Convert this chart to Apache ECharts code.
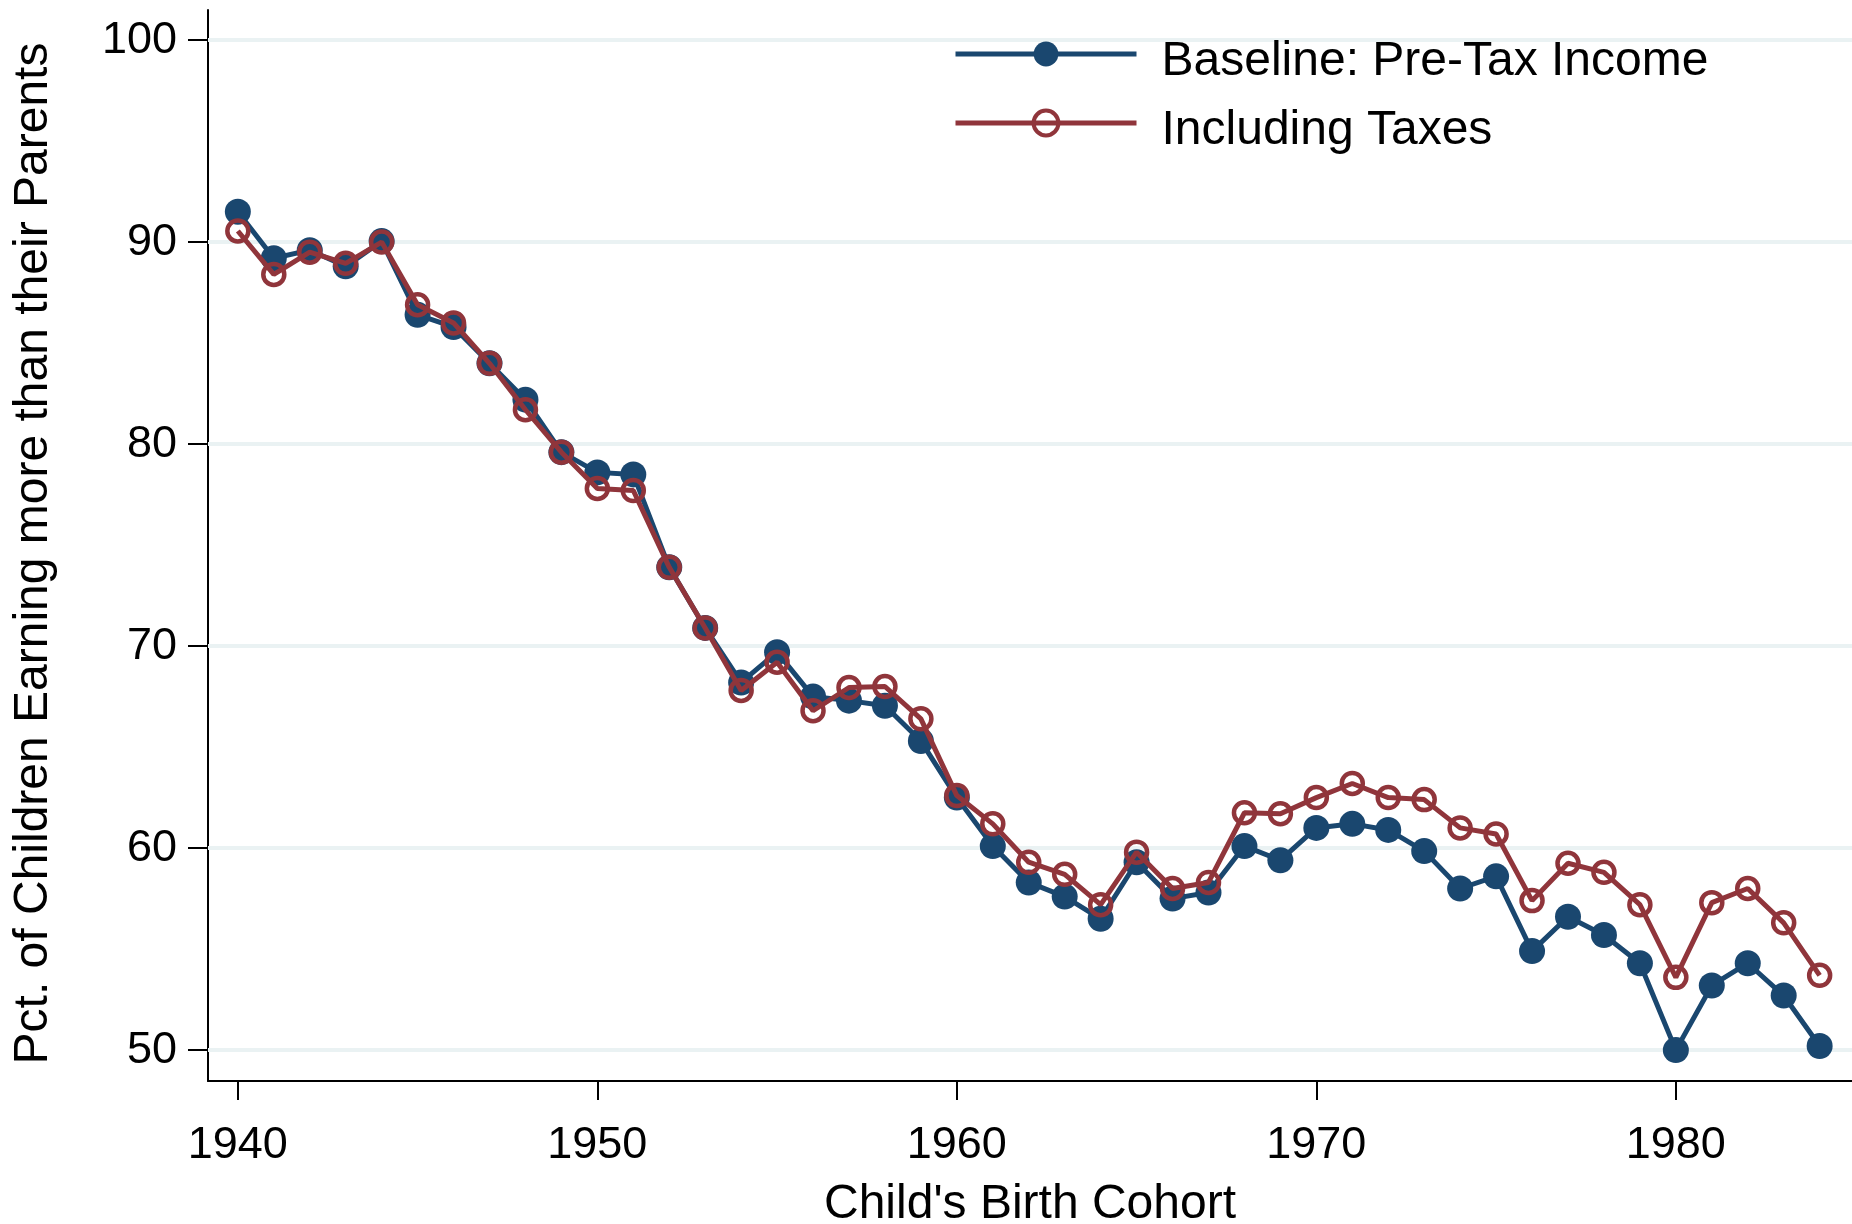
<!DOCTYPE html>
<html>
<head>
<meta charset="utf-8">
<script src="https://cdn.jsdelivr.net/npm/echarts@6/dist/echarts.min.js"></script>
<style>
  html, body { margin: 0; padding: 0; background: #fff; }
  #chart { width: 1852px; height: 1224px; }
</style>
</head>
<body>
<div id="chart"></div>
<script>
  // birth cohorts
  const years = [1940, 1941, 1942, 1943, 1944, 1945, 1946, 1947, 1948, 1949,
    1950, 1951, 1952, 1953, 1954, 1955, 1956, 1957, 1958, 1959,
    1960, 1961, 1962, 1963, 1964, 1965, 1966, 1967, 1968, 1969,
    1970, 1971, 1972, 1973, 1974, 1975, 1976, 1977, 1978, 1979,
    1980, 1981, 1982, 1983, 1984];
  // Baseline: Pre-Tax Income
  const baseline = [91.5, 89.2, 89.6, 88.8, 90.05, 86.4, 85.8, 84.0, 82.2, 79.6,
    78.6, 78.5, 73.9, 70.9, 68.2, 69.7, 67.5, 67.3, 67.05, 65.3,
    62.5, 60.1, 58.3, 57.6, 56.5, 59.3, 57.5, 57.8, 60.1, 59.4,
    61.0, 61.2, 60.9, 59.85, 58.0, 58.6, 54.9, 56.6, 55.7, 54.3,
    50.0, 53.2, 54.3, 52.7, 50.2];
  // Including Taxes
  const withTaxes = [90.55, 88.4, 89.5, 88.95, 90.0, 86.9, 86.0, 84.0, 81.7, 79.6,
    77.8, 77.7, 73.9, 70.9, 67.8, 69.2, 66.8, 67.95, 68.0, 66.4,
    62.6, 61.2, 59.3, 58.7, 57.2, 59.8, 58.0, 58.3, 61.75, 61.7,
    62.5, 63.2, 62.5, 62.4, 61.0, 60.7, 57.4, 59.25, 58.8, 57.2,
    53.6, 57.3, 58.0, 56.3, 53.7];
  // tick labels
  const xTicks = [1940, 1950, 1960, 1970, 1980];
  const yTicks = [50, 60, 70, 80, 90, 100];

  const navy = '#1a476f';
  const maroon = '#90353b';
  const font = 'Liberation Sans, Arial, Helvetica, sans-serif';

  const pairs = (ys) => years.map((y, i) => [y, ys[i]]);

  const option = {
    animation: false,
    backgroundColor: '#fff',
    textStyle: { fontFamily: font, color: '#000' },
    grid: { left: 208, right: 0, top: 10, bottom: 143, containLabel: false, outerBoundsMode: 'none' },
    legend: {
      data: [
        { name: 'Baseline: Pre-Tax Income' },
        { name: 'Including Taxes', itemStyle: { borderWidth: 4 } }
      ],
      orient: 'vertical',
      left: 953,
      top: 22,
      padding: 0,
      itemWidth: 181,
      itemHeight: 31,
      itemGap: 5,
      lineStyle: { width: 5 },
      formatter: (name) => '{t|' + name + '}',
      textStyle: {
        fontSize: 48, color: '#000', fontFamily: font, lineHeight: 64, padding: [0, 0, 0, 20],
        rich: { t: { fontSize: 48, color: '#000', fontFamily: font, verticalAlign: 'bottom' } }
      }
    },
    xAxis: {
      type: 'value',
      min: 1939.17,
      max: 1984.9,
      name: "Child's Birth Cohort",
      nameLocation: 'middle',
      nameGap: 100,
      nameTextStyle: { fontSize: 48, color: '#000', fontFamily: font },
      axisLine: { show: true, onZero: false, lineStyle: { color: '#000', width: 2 } },
      axisTick: { show: true, length: 19, customValues: xTicks, lineStyle: { color: '#000', width: 2 } },
      axisLabel: {
        customValues: xTicks, fontSize: 45, color: '#000', margin: 42, fontFamily: font,
        formatter: (v) => String(v)
      },
      splitLine: { show: false }
    },
    yAxis: {
      type: 'value',
      min: 48.47,
      max: 101.49,
      name: 'Pct. of Children Earning more than their Parents',
      nameLocation: 'middle',
      nameGap: 150,
      nameRotate: 90,
      nameTextStyle: { fontSize: 48, color: '#000', fontFamily: font, padding: [0, 16, 0, 0] },
      axisLine: { show: true, onZero: false, lineStyle: { color: '#000', width: 2 } },
      axisTick: { show: true, length: 20, customValues: yTicks, lineStyle: { color: '#000', width: 2 } },
      axisLabel: { customValues: yTicks, fontSize: 45, color: '#000', margin: 31, fontFamily: font },
      splitLine: { show: false }
    },
    series: [
      {
        // gridlines
        type: 'line',
        data: [],
        silent: true,
        z: 1,
        markLine: {
          z: 1,
          silent: true,
          symbol: ['none', 'none'],
          label: { show: false },
          emphasis: { disabled: true },
          lineStyle: { color: '#eaf2f3', width: 4, type: 'solid' },
          data: yTicks.map(v => ({ yAxis: v }))
        }
      },
      {
        name: 'Baseline: Pre-Tax Income',
        type: 'line',
        z: 3,
        data: pairs(baseline),
        symbol: 'circle',
        symbolSize: 26,
        showAllSymbol: true,
        clip: false,
        itemStyle: { color: navy },
        lineStyle: { color: navy, width: 5 }
      },
      {
        name: 'Including Taxes',
        type: 'line',
        z: 4,
        data: pairs(withTaxes),
        symbol: 'circle',
        symbolSize: 21,
        showAllSymbol: true,
        clip: false,
        itemStyle: { color: 'rgba(255,255,255,0)', borderColor: maroon, borderWidth: 4.5 },
        lineStyle: { color: maroon, width: 5 }
      }
    ]
  };

  const chartObj = echarts.init(document.getElementById('chart'));
  chartObj.setOption(option);
</script>
</body>
</html>
